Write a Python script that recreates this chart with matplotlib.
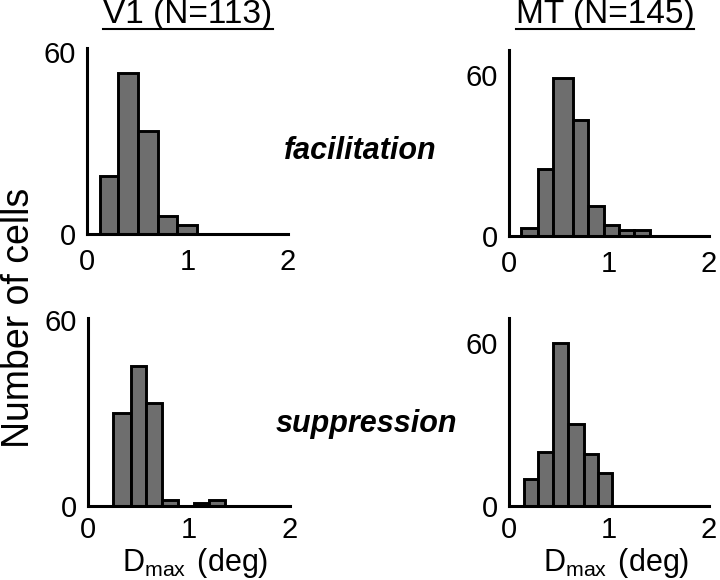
import numpy as np
import matplotlib
matplotlib.use("Agg")
import matplotlib.pyplot as plt
from matplotlib.lines import Line2D

plt.rcParams['font.family'] = ['Liberation Sans', 'DejaVu Sans']
plt.rcParams['mathtext.fontset'] = 'custom'
plt.rcParams['mathtext.rm'] = 'Liberation Sans'
plt.rcParams['mathtext.it'] = 'Liberation Sans:italic'

# ---- data ----
v1_fac_edges = [0.13, 0.31, 0.51, 0.71, 0.90, 1.09]
v1_fac_counts = [19, 53, 34, 6, 3]

mt_fac_edges = [0.12, 0.285, 0.44, 0.635, 0.785, 0.945, 1.10, 1.25, 1.41]
mt_fac_counts = [3, 25, 59, 43, 11, 4, 2, 2]

v1_sup_edges = [0.245, 0.425, 0.575, 0.73, 0.895, 1.05, 1.195, 1.36]
v1_sup_counts = [30, 45, 33, 2, 0, 1, 2]

mt_sup_edges = [0.145, 0.285, 0.44, 0.585, 0.75, 0.885, 1.025]
mt_sup_counts = [10, 20, 60, 30, 19, 12]

x_ticks = [0, 1, 2]
y_ticks = [0, 60]
titles = ["V1 (N=113)", "MT (N=145)"]
row_labels = ["facilitation", "suppression"]
x_label = r"D$_{\mathrm{max}\,}$ (deg)"
y_label = "Number of cells"

W, H = 720, 580
fig = plt.figure(figsize=(W / 100, H / 100), dpi=100)

def px_axes(left, top, right, bottom):
    return fig.add_axes([left / W, 1 - bottom / H, (right - left) / W, (bottom - top) / H])

panels = [
    (px_axes(87, 48, 288, 234), v1_fac_edges, v1_fac_counts, 61.3),
    (px_axes(509, 50, 709, 235.7), mt_fac_edges, mt_fac_counts, 69.3),
    (px_axes(88, 318, 290, 506), v1_sup_edges, v1_sup_counts, 60.5),
    (px_axes(509, 318, 709, 506), mt_sup_edges, mt_sup_counts, 69.2),
]

for i, (ax, edges, counts, ytop) in enumerate(panels):
    e = np.array(edges)
    ax.bar(e[:-1], counts, width=np.diff(e), align='edge',
           color='#6e6e6e', edgecolor='black', linewidth=2.1, zorder=2)
    ax.set_xlim(0, 2)
    ax.set_ylim(0, ytop)
    ax.set_xticks(x_ticks)
    ax.set_yticks(y_ticks)
    ax.set_xticklabels([str(t) for t in x_ticks])
    ax.set_yticklabels([str(t) for t in y_ticks])
    for s in ['top', 'right']:
        ax.spines[s].set_visible(False)
    for s in ['left', 'bottom']:
        ax.spines[s].set_linewidth(2.2)
        ax.spines[s].set_zorder(3)
    ax.tick_params(length=0, labelsize=21, colors='black')
    ax.tick_params(axis='x', pad=10 if i < 2 else 7)
    ax.tick_params(axis='y', pad=8)
    ax.patch.set_alpha(0)

# titles with underline
title_pos = [188, 605]
title_texts = []
for t, xc in zip(titles, title_pos):
    tt = fig.text(xc / W, 1 - 23 / H, t, ha='center', va='baseline', fontsize=24)
    title_texts.append(tt)

fig.canvas.draw()
renderer = fig.canvas.get_renderer()
for tt in title_texts:
    bb = tt.get_window_extent(renderer)
    y_ul = 1 - 29 / H
    fig.add_artist(Line2D([bb.x0 / W, bb.x1 / W], [y_ul, y_ul],
                          transform=fig.transFigure, color='black', linewidth=1.5))

# row labels
fig.text(360 / W, 1 - 159 / H, row_labels[0], ha='center', va='baseline',
         fontsize=22, fontweight='bold', fontstyle='italic')
fig.text(366 / W, 1 - 432 / H, row_labels[1], ha='center', va='baseline',
         fontsize=22, fontweight='bold', fontstyle='italic')

# x labels
for xc in [195, 616]:
    fig.text(xc / W, 1 - 571 / H, x_label, ha='center', va='baseline', fontsize=22)

# y label
fig.text(19 / W, 1 - 318 / H, y_label, ha='center', va='center', rotation=90, fontsize=27)

fig.savefig("out.png", dpi=100, facecolor='white')
